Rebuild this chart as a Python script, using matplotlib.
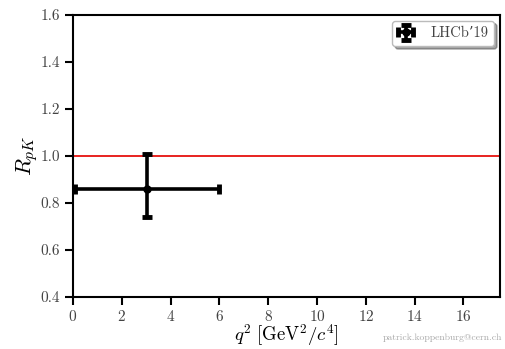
import matplotlib
matplotlib.use("Agg")
import matplotlib.pyplot as plt

plt.rcParams["font.family"] = ["cmr10", "DejaVu Serif"]
plt.rcParams["mathtext.fontset"] = "cm"
plt.rcParams["axes.formatter.use_mathtext"] = True

# LHCb R_pK measurement
q2_center = [3.05]
q2_low = [0.1]
q2_high = [6.0]
rpk = [0.86]
rpk_err_down = [0.12]
rpk_err_up = [0.15]
sm_value = 1.0

fig = plt.figure(figsize=(5.05, 3.49), dpi=100)
ax = fig.add_axes([0.1446, 0.149, 0.8455, 0.808])

xerr = [[c - lo for c, lo in zip(q2_center, q2_low)],
        [hi - c for c, hi in zip(q2_center, q2_high)]]
yerr = [rpk_err_down, rpk_err_up]

ax.axhline(sm_value, color="#e8231f", lw=1.4, zorder=1)
ax.errorbar(q2_center, rpk, xerr=xerr, yerr=yerr, fmt="o", color="black",
            ms=5, elinewidth=2.6, capsize=3.5, capthick=3.5,
            label="LHCb’19", zorder=3)

ax.set_xlim(0, 17.5)
ax.set_ylim(0.4, 1.6)
ax.set_xticks(range(0, 17, 2))
ax.set_yticks([0.4, 0.6, 0.8, 1.0, 1.2, 1.4, 1.6])
ax.set_yticklabels(["0.4", "0.6", "0.8", "1.0", "1.2", "1.4", "1.6"])
ax.tick_params(direction="out", length=6, width=1.5, labelsize=11,
               labelcolor="#444444", top=False, right=False)
ax.tick_params(axis="x", pad=2.5)
for s in ax.spines.values():
    s.set_linewidth(1.5)

ax.set_xlabel(r"$q^2\ [\mathrm{GeV}^2/c^4]$", fontsize=13.5, labelpad=-1)
ax.set_ylabel(r"$R_{pK}$", fontsize=16, labelpad=0)

leg = ax.legend(loc="upper right", fontsize=10.5, frameon=True, fancybox=True,
                shadow=True, handlelength=1.0, borderpad=0.4,
                handletextpad=1.2, borderaxespad=0.4)
leg.get_frame().set_edgecolor("#bbbbbb")
for t in leg.get_texts():
    t.set_color("#444444")

fig.text(0.995, 0.02, "patrick.koppenburg@cern.ch", ha="right", va="bottom",
         fontsize=7, color="#aaaaaa")

fig.savefig("out.png", dpi=100)
